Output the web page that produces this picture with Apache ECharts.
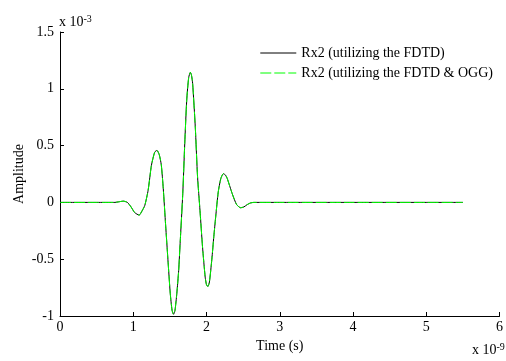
<!DOCTYPE html>
<html><head><meta charset="utf-8">
<script src="https://cdn.jsdelivr.net/npm/echarts@6/dist/echarts.min.js"></script>
<style>html,body{margin:0;padding:0;background:#fff}#c{width:506px;height:361px}</style>
</head><body><div id="c"></div>
<script>
// time in units of 1e-9 s, amplitude in units of 1e-3
const timeNs = [0,0.5,0.75,0.8,0.865,0.92,0.97,1.02,1.081,1.12,1.158,1.203,1.248,1.293,1.324,1.355,1.383,1.41,1.442,1.473,1.505,1.53,1.55,1.57,1.595,1.62,1.64,1.676,1.703,1.73,1.757,1.78,1.795,1.811,1.847,1.878,1.911,1.946,1.982,2.0,2.019,2.04,2.073,2.1,2.125,2.16,2.195,2.23,2.26,2.284,2.351,2.41,2.465,2.51,2.554,2.6,2.645,3.0,4.0,5.0,5.5];
const ampFDTD = [0,0,0,0.005,0.011,0.0,-0.04,-0.09,-0.112,-0.075,-0.026,0.106,0.326,0.443,0.458,0.42,0.33,0.12,-0.2,-0.5,-0.8,-0.95,-0.985,-0.95,-0.8,-0.6,-0.36,0.077,0.517,0.9,1.1,1.145,1.12,1.046,0.663,0.223,-0.07,-0.394,-0.658,-0.725,-0.74,-0.7,-0.5,-0.3,-0.13,0.09,0.209,0.253,0.24,0.209,0.077,-0.018,-0.047,-0.04,-0.02,-0.005,0,0,0,0,0];
const ampOGG = [0,0,0,0.005,0.011,0.0,-0.04,-0.09,-0.112,-0.075,-0.026,0.106,0.326,0.443,0.458,0.42,0.33,0.12,-0.2,-0.5,-0.8,-0.95,-0.985,-0.95,-0.8,-0.6,-0.36,0.077,0.517,0.9,1.1,1.145,1.12,1.046,0.663,0.223,-0.07,-0.394,-0.658,-0.725,-0.74,-0.7,-0.5,-0.3,-0.13,0.09,0.209,0.253,0.24,0.209,0.077,-0.018,-0.047,-0.04,-0.02,-0.005,0,0,0,0,0];
const seriesNames = ['Rx2 (utilizing the FDTD)','Rx2 (utilizing the FDTD & OGG)'];
const yTicks = ['-1','-0.5','0','0.5','1','1.5'];

const font = 'Liberation Serif, Times New Roman, serif';
const chart = echarts.init(document.getElementById('c'));
chart.setOption({
  animation:false,
  backgroundColor:'#fff',
  grid:{left:60,right:3,top:32,bottom:45},
  legend:{
    right:8, top:41, orient:'vertical', itemGap:6, itemWidth:36, itemHeight:10,
    itemStyle:{opacity:0},
    lineStyle:{width:1},
    textStyle:{fontFamily:font,fontSize:14,color:'#000'},
    data:seriesNames
  },
  xAxis:{
    type:'value',min:0,max:6,interval:1,
    name:'Time (s)',nameLocation:'middle',nameGap:22,
    nameTextStyle:{fontFamily:font,fontSize:14,color:'#000'},
    axisLine:{onZero:false,lineStyle:{color:'#000',width:1}},
    axisTick:{inside:true,length:4,lineStyle:{color:'#000'}},
    axisLabel:{fontFamily:font,fontSize:14,color:'#000',margin:4},
    splitLine:{show:false}
  },
  yAxis:{
    type:'value',min:-1,max:1.5,interval:0.5,
    name:'Amplitude',nameLocation:'middle',nameGap:34,nameRotate:90,nameMoveOverlap:false,
    nameTextStyle:{fontFamily:font,fontSize:14,color:'#000'},
    axisLine:{show:true,onZero:false,lineStyle:{color:'#000',width:1}},
    axisTick:{show:true,inside:true,length:4,lineStyle:{color:'#000'}},
    axisLabel:{fontFamily:font,fontSize:14,color:'#000',margin:6,
      formatter:function(v){const i=Math.round((v+1)/0.5);return yTicks[i]!==undefined?yTicks[i]:String(v);}},
    splitLine:{show:false}
  },
  graphic:[
    {type:'text',left:59,top:14,style:{text:'x 10{s|-3}',fontFamily:font,fontSize:14,fill:'#000',
      rich:{s:{fontSize:10,verticalAlign:'top',padding:[0,0,7,0],fontFamily:font}}}},
    {type:'text',left:472,top:342,style:{text:'x 10{s|-9}',fontFamily:font,fontSize:14,fill:'#000',
      rich:{s:{fontSize:10,verticalAlign:'top',padding:[0,0,7,0],fontFamily:font}}}}
  ],
  series:[
    {name:seriesNames[0],type:'line',symbol:'none',smooth:0.2,data:timeNs.map((t,i)=>[t,ampFDTD[i]]),
      lineStyle:{color:'#000',width:1},itemStyle:{color:'#000'}},
    {name:seriesNames[1],type:'line',symbol:'none',smooth:0.2,data:timeNs.map((t,i)=>[t,ampOGG[i]]),
      lineStyle:{color:'#00ff00',width:1,type:[11,3]},itemStyle:{color:'#00ff00'}}
  ]
});
</script></body></html>
